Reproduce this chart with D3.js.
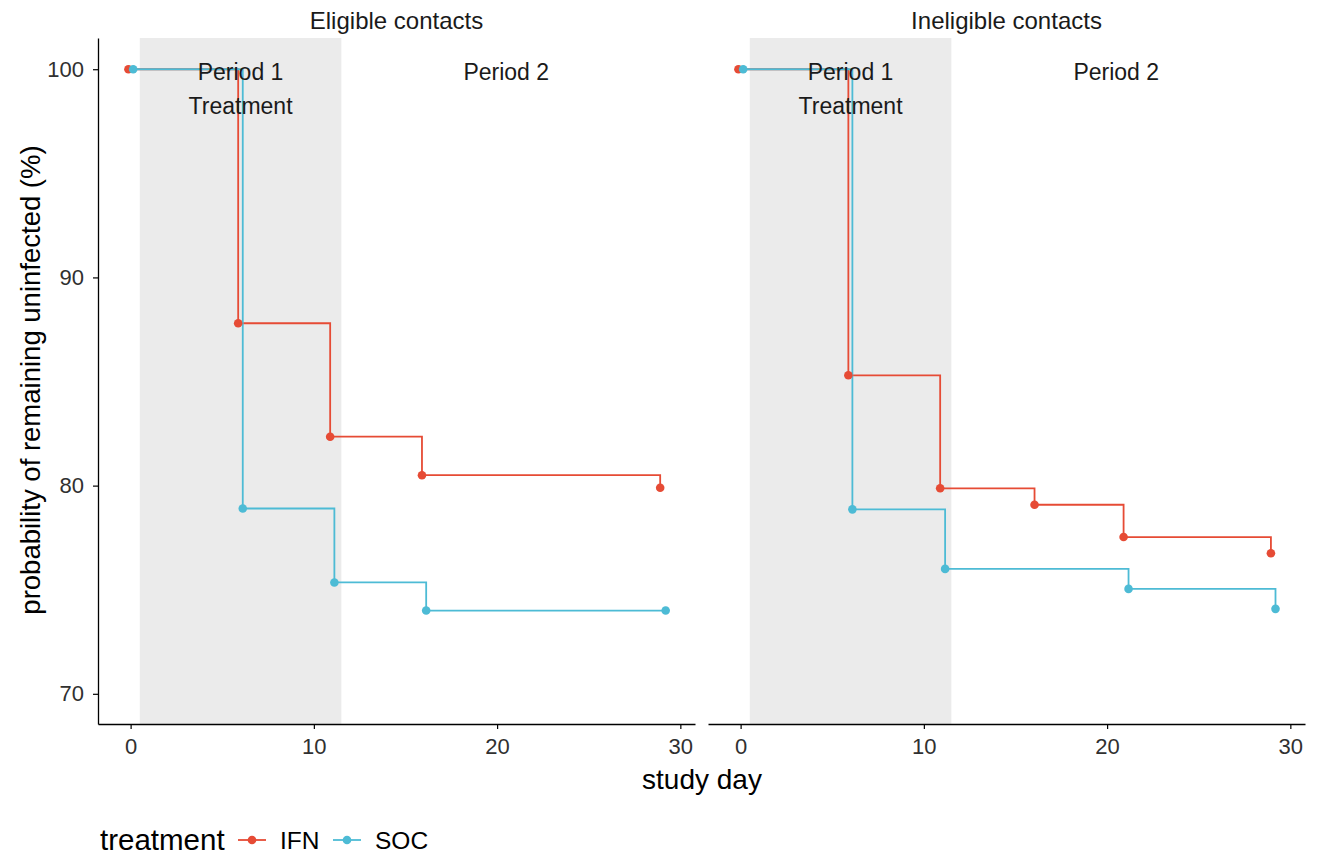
<!DOCTYPE html>
<html><head><meta charset="utf-8">
<script src="https://cdn.jsdelivr.net/npm/d3@7"></script>
<style>body{margin:0;background:#fff}text{font-family:"Liberation Sans",Arial,sans-serif}</style>
</head><body><svg id="c" width="1324" height="857"></svg>
<script>
// ---- data ----
const panels = ["Eligible contacts", "Ineligible contacts"];
const treatments = ["IFN", "SOC"];
const xTicks = [0, 10, 20, 30];
const yTicks = [70, 80, 90, 100];
const periodShade = [0.5, 11.5];
const periodLabels = [{day: 6, lines: ["Period 1", "Treatment"]}, {day: 20.5, lines: ["Period 2"]}];

const eligIFN_days = [-0.12, 5.87, 10.89, 15.9, 28.9];
const eligIFN_vals = [100, 87.8, 82.35, 80.5, 79.9];
const eligSOC_days = [0.14, 6.12, 11.12, 16.13, 29.2];
const eligSOC_vals = [100, 78.9, 75.35, 74.0, 74.0];
const inelIFN_days = [-0.12, 5.88, 10.89, 16.04, 20.9, 28.94];
const inelIFN_vals = [100, 85.3, 79.87, 79.08, 77.53, 76.75];
const inelSOC_days = [0.14, 6.1, 11.16, 21.17, 29.19];
const inelSOC_vals = [100, 78.86, 76.0, 75.04, 74.08];

const seriesByPanel = [
  [{t: "IFN", d: eligIFN_days, v: eligIFN_vals}, {t: "SOC", d: eligSOC_days, v: eligSOC_vals}],
  [{t: "IFN", d: inelIFN_days, v: inelIFN_vals}, {t: "SOC", d: inelSOC_days, v: inelSOC_vals}]
];
const colors = {IFN: "#E64B35", SOC: "#4DBBD5"};

// ---- layout ----
const svg = d3.select("#c");
const pTop = 38, pBottom = 724;
const panelX = [[98, 695], [708, 1305]];
const y = d3.scaleLinear().domain([68.55, 101.5]).range([pBottom, pTop]);
const FONT = "Liberation Sans, Arial, sans-serif";

panels.forEach((name, i) => {
  const [x0, x1] = panelX[i];
  const x = d3.scaleLinear().domain([-1.78, 30.8]).range([x0, x1]);
  const g = svg.append("g");
  // shade
  g.append("rect").attr("x", x(periodShade[0])).attr("y", pTop)
    .attr("width", x(periodShade[1]) - x(periodShade[0])).attr("height", pBottom - pTop)
    .attr("fill", "#EBEBEB");
  // lines
  const line = d3.line().x(p => x(p[0])).y(p => y(p[1])).curve(d3.curveStepAfter);
  seriesByPanel[i].forEach(s => {
    const pts = s.d.map((dd, k) => [dd, s.v[k]]);
    g.append("path").attr("d", line(pts)).attr("fill", "none")
      .attr("stroke", colors[s.t]).attr("stroke-width", 1.8);
  });
  seriesByPanel[i].forEach(s => {
    g.selectAll(null).data(s.d.map((dd, k) => [dd, s.v[k]])).enter().append("circle")
      .attr("cx", p => x(p[0])).attr("cy", p => y(p[1])).attr("r", 4.3)
      .attr("fill", colors[s.t]);
  });
  // period labels
  periodLabels.forEach(pl => {
    pl.lines.forEach((ln, k) => {
      g.append("text").attr("x", x(pl.day)).attr("y", 80 + k * 34)
        .attr("text-anchor", "middle").attr("font-size", 23).attr("fill", "#1a1a1a").text(ln);
    });
  });
  // x axis
  const xa = g.append("g").attr("transform", `translate(0,${pBottom})`)
    .call(d3.axisBottom(x).tickValues(xTicks).tickSize(5).tickPadding(9).tickSizeOuter(0));
  xa.select(".domain").attr("stroke", "#000").attr("stroke-width", 1.3);
  xa.selectAll(".tick line").attr("stroke", "#000").attr("stroke-width", 1.2);
  xa.selectAll(".tick text").attr("font-size", 22).attr("fill", "#303030").attr("font-family", FONT);
  if (i === 0) {
    const ya = g.append("g").attr("transform", `translate(${x0},0)`)
      .call(d3.axisLeft(y).tickValues(yTicks).tickSize(5).tickPadding(9).tickSizeOuter(0));
    ya.select(".domain").attr("stroke", "#000").attr("stroke-width", 1.3);
    ya.selectAll(".tick line").attr("stroke", "#000").attr("stroke-width", 1.2);
    ya.selectAll(".tick text").attr("font-size", 22).attr("fill", "#303030").attr("font-family", FONT);
  }
  // facet title
  svg.append("text").attr("x", (x0 + x1) / 2).attr("y", 29).attr("text-anchor", "middle")
    .attr("font-size", 24).attr("fill", "#1a1a1a").text(name);
});

// axis titles
svg.append("text").attr("x", 702).attr("y", 789).attr("text-anchor", "middle")
  .attr("font-size", 28).attr("fill", "#000").text("study day");
svg.append("text").attr("transform", "translate(40,380) rotate(-90)").attr("text-anchor", "middle")
  .attr("font-size", 27.5).attr("fill", "#000").text("probability of remaining uninfected (%)");

// legend
const lg = svg.append("g");
lg.append("text").attr("x", 100).attr("y", 850).attr("font-size", 29.5).attr("fill", "#000").text("treatment");
const legX = [238, 333];
treatments.forEach((t, k) => {
  const lx = legX[k];
  lg.append("line").attr("x1", lx).attr("x2", lx + 28).attr("y1", 840).attr("y2", 840)
    .attr("stroke", colors[t]).attr("stroke-width", 1.8);
  lg.append("circle").attr("cx", lx + 14).attr("cy", 840).attr("r", 4.3).attr("fill", colors[t]);
  lg.append("text").attr("x", lx + 42).attr("y", 849).attr("font-size", 24.5).attr("fill", "#000").text(t);
});
</script></body></html>
